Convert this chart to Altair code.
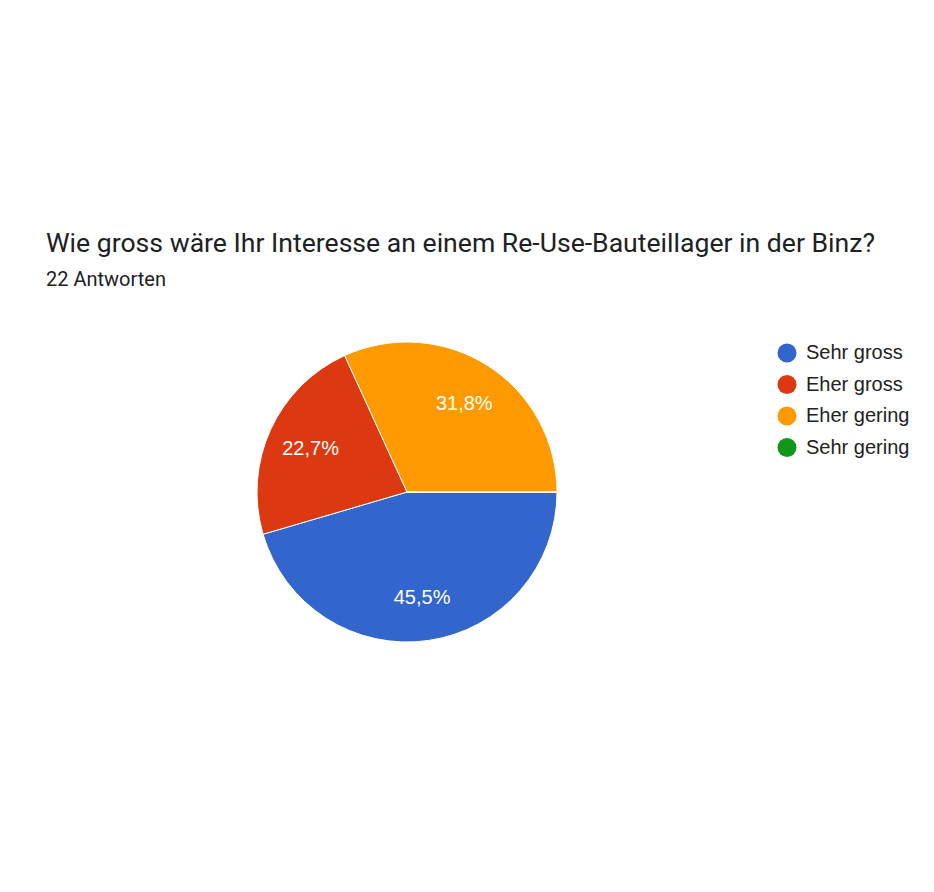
import math
import altair as alt
import pandas as pd

categories = ["Sehr gross", "Eher gross", "Eher gering", "Sehr gering"]
counts = [10, 5, 7, 0]
labels = ["45,5%", "22,7%", "31,8%", ""]
colors = ["#3366cc", "#dc3912", "#ff9900", "#109618"]
title_text = "Wie gross wäre Ihr Interesse an einem Re-Use-Bauteillager in der Binz?"
subtitle_text = "22 Antworten"

df = pd.DataFrame({
    "Antwort": categories,
    "Anzahl": counts,
    "Label": labels,
    "idx": list(range(len(categories))),
})

# plot area is a 300x300 box around the pie
W, H = 300, 300
PL, PT = 249, 334

theta_scale = alt.Scale(range=[math.pi / 2, math.pi / 2 + 2 * math.pi])
color_scale = alt.Scale(domain=categories, range=colors)

base = alt.Chart(df)

pie = base.mark_arc(outerRadius=150, stroke="white", strokeWidth=1).encode(
    theta=alt.Theta("Anzahl:Q", stack=True, scale=theta_scale),
    color=alt.Color(
        "Antwort:N",
        scale=color_scale,
        sort=categories,
        legend=alt.Legend(
            title=None,
            orient="none",
            legendX=520,
            legendY=1,
            symbolType="circle",
            symbolSize=361,
            symbolStrokeWidth=0,
            labelFont="Liberation Sans",
            labelFontSize=20,
            labelColor="#222222",
            rowPadding=11.5,
            labelOffset=9,
        ),
    ),
    order=alt.Order("idx:Q"),
)

text = base.mark_text(
    radius=106, color="white", font="Liberation Sans", fontSize=20, dy=1
).encode(
    theta=alt.Theta("Anzahl:Q", stack=True, scale=theta_scale),
    text="Label:N",
    order=alt.Order("idx:Q"),
)

title_df = pd.DataFrame({"t": [title_text]})
sub_df = pd.DataFrame({"t": [subtitle_text]})

title = alt.Chart(title_df).mark_text(
    align="left", baseline="alphabetic", font="Roboto", fontSize=26.6, color="#202124"
).encode(x=alt.value(46 - 8 - PL), y=alt.value(252 - 8 - PT), text="t:N")

sub = alt.Chart(sub_df).mark_text(
    align="left", baseline="alphabetic", font="Roboto", fontSize=20, color="#202124"
).encode(x=alt.value(46 - 8 - PL), y=alt.value(286 - 8 - PT), text="t:N")

chart = alt.layer(pie, text, title, sub).properties(
    width=W,
    height=H,
    autosize=alt.AutoSizeParams(type="none"),
    padding={"left": PL, "top": PT, "right": 918 - PL - W, "bottom": 876 - PT - H},
).configure_view(stroke=None)

chart.save("out.html", embed_options={"renderer": "svg", "actions": False})
